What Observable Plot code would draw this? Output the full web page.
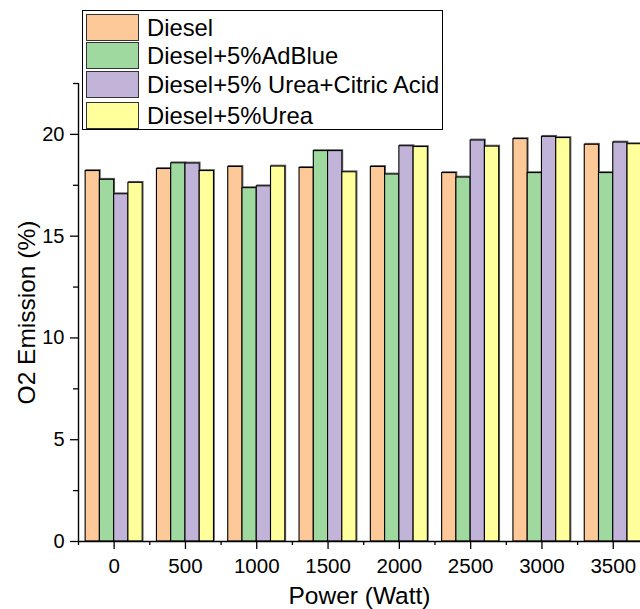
<!DOCTYPE html>
<html>
<head>
<meta charset="utf-8">
<script src="https://cdn.jsdelivr.net/npm/d3@7"></script>
<script src="https://cdn.jsdelivr.net/npm/@observablehq/plot@0.6"></script>
<style>
  html, body { margin: 0; padding: 0; background: #fff; }
  #wrap { position: relative; width: 640px; height: 609px; overflow: hidden; font-family: "Liberation Sans", Arial, sans-serif; }
  #legend { position: absolute; left: 82px; top: 10px; width: 359px; height: 118px; border: 1px solid #000; background: #fff; box-sizing: content-box; }
  .row { position: absolute; left: 3px; height: 27px; display: flex; align-items: center; }
  .sw { width: 51px; height: 25px; border: 1px solid #333; box-sizing: content-box; margin-right: 8px; }
  .lab { font-size: 23.8px; color: #000; white-space: nowrap; }
</style>
</head>
<body>
<div id="wrap"><div id="chart"></div><div id="legend"></div></div>
<script>
const powers = [0, 500, 1000, 1500, 2000, 2500, 3000, 3500];
const seriesNames = ["Diesel", "Diesel+5%AdBlue", "Diesel+5% Urea+Citric Acid", "Diesel+5%Urea"];
const colors = ["#FDC998", "#A0D9A0", "#C2B3D8", "#FFFF9C"];
const diesel      = [18.2, 18.3, 18.4, 18.35, 18.4, 18.1, 19.77, 19.49];
const adblue      = [17.77, 18.58, 17.36, 19.18, 18.03, 17.88, 18.1, 18.1];
const ureaCitric  = [17.06, 18.57, 17.45, 19.18, 19.42, 19.7, 19.88, 19.6];
const urea        = [17.62, 18.2, 18.42, 18.14, 19.38, 19.4, 19.82, 19.52];
const yMajor = [0, 5, 10, 15, 20];
const yMinor = [2.5, 7.5, 12.5, 17.5, 22.5];
const xMinor = [-250, 250, 750, 1250, 1750, 2250, 2750, 3250];

const seriesValues = [diesel, adblue, ureaCitric, urea];
const data = [];
seriesValues.forEach((vals, i) => {
  vals.forEach((v, j) => {
    data.push({series: seriesNames[i], idx: i, power: powers[j], value: v});
  });
});
const barW = 100;
const x1 = d => d.power - 2 * barW + d.idx * barW;
const x2 = d => d.power - 2 * barW + (d.idx + 1) * barW;

const font = "Liberation Sans, Arial, sans-serif";
const chart = Plot.plot({
  width: 640,
  height: 609,
  marginLeft: 78,
  marginRight: 0,
  marginTop: 83,
  marginBottom: 68,
  style: {fontFamily: font, background: "#fff", color: "#000"},
  x: {domain: [-250, 3691], axis: null},
  y: {domain: [0, 22.5], axis: null},
  color: {domain: seriesNames, range: colors},
  marks: [
    Plot.rectY(data, {x1, x2, y1: 0, y2: "value", stroke: "#666", strokeWidth: 1.2, dx: 0.8, dy: -0.8, fill: "none"}),
    Plot.rectY(data, {x1, x2, y1: 0, y2: "value", fill: "series", stroke: "#000", strokeWidth: 1.1}),
    Plot.axisY({ticks: yMajor, tickSize: 8, tickPadding: 6, fontSize: 20, tickFormat: d3.format("d"), label: null, strokeWidth: 1.3}),
    Plot.axisY({ticks: yMinor, tickSize: 5, tickFormat: () => "", label: null, strokeWidth: 1.3}),
    Plot.axisX({ticks: powers, tickSize: 8, tickPadding: 9, fontSize: 20.5, tickFormat: d3.format("d"), label: null, strokeWidth: 1.3}),
    Plot.axisX({ticks: xMinor, tickSize: 4, tickFormat: () => "", label: null, strokeWidth: 1.3}),
    Plot.ruleX([-250], {y1: 0, y2: 22.5, stroke: "#000", strokeWidth: 1.4}),
    Plot.ruleY([0], {x1: -250, x2: 3691, stroke: "#000", strokeWidth: 1.4}),
    Plot.text(["Power (Watt)"], {frameAnchor: "bottom", dy: 62, text: d => d, fontSize: 24.5, fill: "#000"}),
    Plot.text(["O2 Emission (%)"], {frameAnchor: "left", dx: -51, rotate: -90, textAnchor: "middle", text: d => d, fontSize: 24.5, fill: "#000"})
  ]
});
document.getElementById("chart").appendChild(chart);

const legend = document.getElementById("legend");
const rowTops = [3, 31, 60, 91];
seriesNames.forEach((name, i) => {
  const row = document.createElement("div");
  row.className = "row";
  row.style.top = rowTops[i] + "px";
  const sw = document.createElement("div");
  sw.className = "sw";
  sw.style.background = colors[i];
  const lab = document.createElement("span");
  lab.className = "lab";
  lab.textContent = name;
  row.appendChild(sw);
  row.appendChild(lab);
  legend.appendChild(row);
});
</script>
</body>
</html>
